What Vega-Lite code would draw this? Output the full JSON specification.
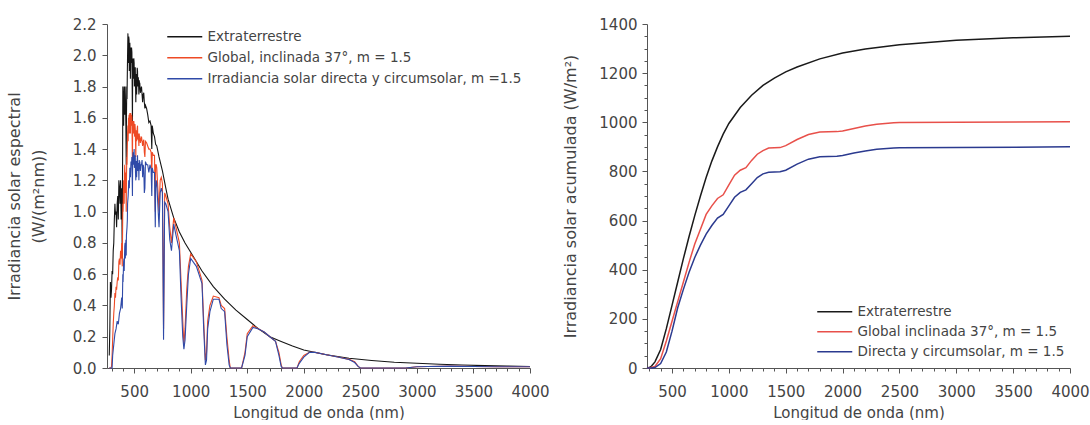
{
 "$schema": "https://vega.github.io/schema/vega-lite/v6.json",
 "background": "white",
 "padding": {"left": 6, "top": 17, "right": 0, "bottom": 0},
 "spacing": 12,
 "config": {
  "view": {"stroke": null},
  "font": "DejaVu Sans",
  "axis": {"grid": false, "domainColor": "#555", "tickColor": "#555", "labelColor": "#444", "titleColor": "#444", "labelFontSize": 15, "titleFontSize": 15, "titleFontWeight": "normal", "labelFont": "DejaVu Sans", "titleFont": "DejaVu Sans"},
  "legend": {"labelFont": "DejaVu Sans", "labelColor": "#444", "labelLimit": 0}
 },
 "resolve": {"scale": {"color": "independent"}, "legend": {"color": "independent"}},
 "datasets": {
  "spec": [
   {"s":"E","wl":280,"v":0.08},{"s":"E","wl":285,"v":0.25},{"s":"E","wl":290,"v":0.55},{"s":"E","wl":295,"v":0.45},{"s":"E","wl":300,"v":0.5},{"s":"E","wl":305,"v":0.62},{"s":"E","wl":310,"v":0.6},{"s":"E","wl":315,"v":0.75},{"s":"E","wl":320,"v":0.8},{"s":"E","wl":325,"v":0.95},{"s":"E","wl":330,"v":1.05},{"s":"E","wl":335,"v":0.98},{"s":"E","wl":340,"v":1.0},{"s":"E","wl":345,"v":0.9},{"s":"E","wl":350,"v":1.05},{"s":"E","wl":355,"v":1.1},{"s":"E","wl":360,"v":0.95},{"s":"E","wl":365,"v":1.2},{"s":"E","wl":370,"v":1.15},{"s":"E","wl":375,"v":1.05},{"s":"E","wl":380,"v":1.2},{"s":"E","wl":385,"v":0.95},{"s":"E","wl":390,"v":1.15},{"s":"E","wl":395,"v":0.7},{"s":"E","wl":400,"v":1.8},{"s":"E","wl":405,"v":1.65},{"s":"E","wl":410,"v":1.75},{"s":"E","wl":415,"v":1.78},{"s":"E","wl":420,"v":1.8},{"s":"E","wl":425,"v":1.65},{"s":"E","wl":430,"v":1.3},{"s":"E","wl":435,"v":1.8},{"s":"E","wl":440,"v":1.9},{"s":"E","wl":445,"v":2.14},{"s":"E","wl":450,"v":2.05},{"s":"E","wl":455,"v":2.1},{"s":"E","wl":460,"v":2.02},{"s":"E","wl":465,"v":1.98},{"s":"E","wl":470,"v":2.05},{"s":"E","wl":475,"v":1.95},{"s":"E","wl":480,"v":2.02},{"s":"E","wl":485,"v":1.55},{"s":"E","wl":490,"v":1.98},{"s":"E","wl":495,"v":1.9},{"s":"E","wl":500,"v":1.95},{"s":"E","wl":505,"v":1.85},{"s":"E","wl":510,"v":1.92},{"s":"E","wl":515,"v":1.7},{"s":"E","wl":520,"v":1.86},{"s":"E","wl":525,"v":1.85},{"s":"E","wl":530,"v":1.9},{"s":"E","wl":535,"v":1.82},{"s":"E","wl":540,"v":1.8},{"s":"E","wl":545,"v":1.84},{"s":"E","wl":550,"v":1.82},{"s":"E","wl":560,"v":1.78},{"s":"E","wl":570,"v":1.75},{"s":"E","wl":580,"v":1.75},{"s":"E","wl":590,"v":1.7},{"s":"E","wl":600,"v":1.68},{"s":"E","wl":620,"v":1.62},{"s":"E","wl":640,"v":1.58},{"s":"E","wl":656,"v":1.4},{"s":"E","wl":660,"v":1.55},{"s":"E","wl":680,"v":1.48},{"s":"E","wl":700,"v":1.42},{"s":"E","wl":720,"v":1.35},{"s":"E","wl":750,"v":1.26},{"s":"E","wl":780,"v":1.15},{"s":"E","wl":800,"v":1.08},{"s":"E","wl":850,"v":0.96},{"s":"E","wl":900,"v":0.87},{"s":"E","wl":950,"v":0.8},{"s":"E","wl":1000,"v":0.74},{"s":"E","wl":1100,"v":0.62},{"s":"E","wl":1200,"v":0.52},{"s":"E","wl":1300,"v":0.44},{"s":"E","wl":1400,"v":0.37},{"s":"E","wl":1500,"v":0.31},{"s":"E","wl":1600,"v":0.25},{"s":"E","wl":1700,"v":0.2},{"s":"E","wl":1800,"v":0.17},{"s":"E","wl":1900,"v":0.14},{"s":"E","wl":2000,"v":0.115},{"s":"E","wl":2200,"v":0.085},{"s":"E","wl":2400,"v":0.062},{"s":"E","wl":2600,"v":0.048},{"s":"E","wl":2800,"v":0.037},{"s":"E","wl":3000,"v":0.03},{"s":"E","wl":3200,"v":0.024},{"s":"E","wl":3400,"v":0.019},{"s":"E","wl":3600,"v":0.015},{"s":"E","wl":3800,"v":0.012},{"s":"E","wl":4000,"v":0.01},
   {"s":"E","wl":402,"v":1.72},{"s":"E","wl":407,"v":1.55},{"s":"E","wl":412,"v":1.8},{"s":"E","wl":417,"v":1.62},{"s":"E","wl":422,"v":1.75},{"s":"E","wl":427,"v":1.55},{"s":"E","wl":432,"v":1.6},{"s":"E","wl":437,"v":1.72},{"s":"E","wl":442,"v":2.0},{"s":"E","wl":447,"v":1.95},{"s":"E","wl":452,"v":2.12},{"s":"E","wl":457,"v":1.9},{"s":"E","wl":462,"v":2.08},{"s":"E","wl":467,"v":1.85},{"s":"E","wl":472,"v":2.0},{"s":"E","wl":477,"v":2.05},{"s":"E","wl":482,"v":1.88},{"s":"E","wl":487,"v":1.95},{"s":"E","wl":492,"v":1.85},{"s":"E","wl":497,"v":1.98},{"s":"E","wl":502,"v":1.8},{"s":"E","wl":507,"v":1.92},{"s":"E","wl":512,"v":1.82},{"s":"E","wl":517,"v":1.88},{"s":"E","wl":522,"v":1.75},{"s":"E","wl":527,"v":1.92},{"s":"E","wl":532,"v":1.8},{"s":"E","wl":537,"v":1.86},{"s":"E","wl":542,"v":1.75},{"s":"E","wl":547,"v":1.82},{"s":"E","wl":555,"v":1.76},{"s":"E","wl":565,"v":1.8},{"s":"E","wl":575,"v":1.7},{"s":"E","wl":585,"v":1.76},{"s":"E","wl":595,"v":1.66},{"s":"E","wl":610,"v":1.66},{"s":"E","wl":630,"v":1.57},{"s":"E","wl":650,"v":1.55},{"s":"E","wl":670,"v":1.5},{"s":"E","wl":690,"v":1.43},
   {"s":"G","wl":280,"v":0},{"s":"G","wl":295,"v":0},{"s":"G","wl":300,"v":0.01},{"s":"G","wl":305,"v":0.08},{"s":"G","wl":310,"v":0.18},{"s":"G","wl":315,"v":0.28},{"s":"G","wl":320,"v":0.35},{"s":"G","wl":325,"v":0.4},{"s":"G","wl":330,"v":0.48},{"s":"G","wl":335,"v":0.45},{"s":"G","wl":340,"v":0.52},{"s":"G","wl":345,"v":0.5},{"s":"G","wl":350,"v":0.55},{"s":"G","wl":355,"v":0.58},{"s":"G","wl":360,"v":0.56},{"s":"G","wl":365,"v":0.68},{"s":"G","wl":370,"v":0.7},{"s":"G","wl":375,"v":0.66},{"s":"G","wl":380,"v":0.75},{"s":"G","wl":385,"v":0.7},{"s":"G","wl":390,"v":0.8},{"s":"G","wl":395,"v":0.65},{"s":"G","wl":400,"v":1.05},{"s":"G","wl":405,"v":1.1},{"s":"G","wl":410,"v":1.15},{"s":"G","wl":415,"v":1.25},{"s":"G","wl":420,"v":1.22},{"s":"G","wl":425,"v":1.2},{"s":"G","wl":430,"v":1.0},{"s":"G","wl":435,"v":1.35},{"s":"G","wl":440,"v":1.42},{"s":"G","wl":445,"v":1.55},{"s":"G","wl":450,"v":1.6},{"s":"G","wl":455,"v":1.62},{"s":"G","wl":460,"v":1.6},{"s":"G","wl":465,"v":1.58},{"s":"G","wl":470,"v":1.63},{"s":"G","wl":475,"v":1.55},{"s":"G","wl":480,"v":1.6},{"s":"G","wl":485,"v":1.3},{"s":"G","wl":490,"v":1.58},{"s":"G","wl":495,"v":1.52},{"s":"G","wl":500,"v":1.55},{"s":"G","wl":505,"v":1.48},{"s":"G","wl":510,"v":1.53},{"s":"G","wl":515,"v":1.35},{"s":"G","wl":520,"v":1.5},{"s":"G","wl":525,"v":1.48},{"s":"G","wl":530,"v":1.55},{"s":"G","wl":535,"v":1.46},{"s":"G","wl":540,"v":1.45},{"s":"G","wl":545,"v":1.5},{"s":"G","wl":550,"v":1.48},{"s":"G","wl":560,"v":1.46},{"s":"G","wl":570,"v":1.45},{"s":"G","wl":580,"v":1.45},{"s":"G","wl":590,"v":1.38},{"s":"G","wl":600,"v":1.45},{"s":"G","wl":620,"v":1.42},{"s":"G","wl":640,"v":1.4},{"s":"G","wl":656,"v":1.25},{"s":"G","wl":660,"v":1.38},{"s":"G","wl":680,"v":1.36},{"s":"G","wl":687,"v":1.0},{"s":"G","wl":695,"v":1.3},{"s":"G","wl":700,"v":1.28},{"s":"G","wl":720,"v":1.0},{"s":"G","wl":730,"v":1.2},{"s":"G","wl":740,"v":1.22},{"s":"G","wl":750,"v":1.18},{"s":"G","wl":760,"v":0.25},{"s":"G","wl":770,"v":1.12},{"s":"G","wl":780,"v":1.1},{"s":"G","wl":800,"v":1.05},{"s":"G","wl":815,"v":0.9},{"s":"G","wl":830,"v":0.8},{"s":"G","wl":850,"v":0.96},{"s":"G","wl":870,"v":0.9},{"s":"G","wl":900,"v":0.8},{"s":"G","wl":915,"v":0.55},{"s":"G","wl":930,"v":0.3},{"s":"G","wl":940,"v":0.15},{"s":"G","wl":950,"v":0.25},{"s":"G","wl":965,"v":0.5},{"s":"G","wl":980,"v":0.65},{"s":"G","wl":1000,"v":0.73},{"s":"G","wl":1050,"v":0.68},{"s":"G","wl":1100,"v":0.56},{"s":"G","wl":1115,"v":0.3},{"s":"G","wl":1130,"v":0.05},{"s":"G","wl":1140,"v":0.1},{"s":"G","wl":1150,"v":0.3},{"s":"G","wl":1170,"v":0.4},{"s":"G","wl":1200,"v":0.46},{"s":"G","wl":1250,"v":0.45},{"s":"G","wl":1270,"v":0.4},{"s":"G","wl":1300,"v":0.38},{"s":"G","wl":1320,"v":0.2},{"s":"G","wl":1340,"v":0.05},{"s":"G","wl":1350,"v":0},{"s":"G","wl":1450,"v":0},{"s":"G","wl":1480,"v":0.1},{"s":"G","wl":1500,"v":0.22},{"s":"G","wl":1550,"v":0.27},{"s":"G","wl":1600,"v":0.25},{"s":"G","wl":1650,"v":0.23},{"s":"G","wl":1700,"v":0.2},{"s":"G","wl":1750,"v":0.17},{"s":"G","wl":1780,"v":0.1},{"s":"G","wl":1800,"v":0.02},{"s":"G","wl":1810,"v":0},{"s":"G","wl":1940,"v":0},{"s":"G","wl":1960,"v":0.04},{"s":"G","wl":2000,"v":0.08},{"s":"G","wl":2050,"v":0.1},{"s":"G","wl":2100,"v":0.1},{"s":"G","wl":2200,"v":0.085},{"s":"G","wl":2300,"v":0.07},{"s":"G","wl":2400,"v":0.055},{"s":"G","wl":2450,"v":0.04},{"s":"G","wl":2480,"v":0.01},{"s":"G","wl":2500,"v":0},{"s":"G","wl":2900,"v":0},{"s":"G","wl":3000,"v":0.008},{"s":"G","wl":3100,"v":0.01},{"s":"G","wl":3300,"v":0.012},{"s":"G","wl":3500,"v":0.01},{"s":"G","wl":3700,"v":0.008},{"s":"G","wl":3900,"v":0.008},{"s":"G","wl":4000,"v":0.008},
   {"s":"G","wl":402,"v":1.0},{"s":"G","wl":407,"v":1.2},{"s":"G","wl":412,"v":1.05},{"s":"G","wl":417,"v":1.3},{"s":"G","wl":422,"v":1.12},{"s":"G","wl":427,"v":1.25},{"s":"G","wl":432,"v":1.2},{"s":"G","wl":437,"v":1.3},{"s":"G","wl":442,"v":1.5},{"s":"G","wl":447,"v":1.45},{"s":"G","wl":452,"v":1.55},{"s":"G","wl":457,"v":1.5},{"s":"G","wl":462,"v":1.63},{"s":"G","wl":467,"v":1.5},{"s":"G","wl":472,"v":1.58},{"s":"G","wl":477,"v":1.62},{"s":"G","wl":482,"v":1.48},{"s":"G","wl":487,"v":1.55},{"s":"G","wl":492,"v":1.5},{"s":"G","wl":497,"v":1.58},{"s":"G","wl":502,"v":1.5},{"s":"G","wl":507,"v":1.56},{"s":"G","wl":512,"v":1.45},{"s":"G","wl":517,"v":1.52},{"s":"G","wl":522,"v":1.45},{"s":"G","wl":527,"v":1.53},{"s":"G","wl":532,"v":1.47},{"s":"G","wl":537,"v":1.5},{"s":"G","wl":542,"v":1.42},{"s":"G","wl":547,"v":1.48},{"s":"G","wl":555,"v":1.44},{"s":"G","wl":565,"v":1.48},{"s":"G","wl":575,"v":1.42},{"s":"G","wl":585,"v":1.46},{"s":"G","wl":595,"v":1.35},{"s":"G","wl":610,"v":1.44},{"s":"G","wl":630,"v":1.4},{"s":"G","wl":650,"v":1.38},{"s":"G","wl":670,"v":1.36},{"s":"G","wl":690,"v":1.3},
   {"s":"D","wl":280,"v":0},{"s":"D","wl":305,"v":0},{"s":"D","wl":310,"v":0.08},{"s":"D","wl":320,"v":0.15},{"s":"D","wl":330,"v":0.22},{"s":"D","wl":340,"v":0.25},{"s":"D","wl":350,"v":0.3},{"s":"D","wl":360,"v":0.28},{"s":"D","wl":370,"v":0.35},{"s":"D","wl":380,"v":0.38},{"s":"D","wl":390,"v":0.45},{"s":"D","wl":395,"v":0.38},{"s":"D","wl":400,"v":0.6},{"s":"D","wl":410,"v":0.7},{"s":"D","wl":420,"v":0.8},{"s":"D","wl":430,"v":0.72},{"s":"D","wl":440,"v":0.95},{"s":"D","wl":450,"v":1.15},{"s":"D","wl":460,"v":1.22},{"s":"D","wl":470,"v":1.28},{"s":"D","wl":480,"v":1.35},{"s":"D","wl":485,"v":1.1},{"s":"D","wl":490,"v":1.38},{"s":"D","wl":495,"v":1.32},{"s":"D","wl":500,"v":1.4},{"s":"D","wl":505,"v":1.32},{"s":"D","wl":510,"v":1.36},{"s":"D","wl":515,"v":1.2},{"s":"D","wl":520,"v":1.32},{"s":"D","wl":525,"v":1.3},{"s":"D","wl":530,"v":1.36},{"s":"D","wl":535,"v":1.3},{"s":"D","wl":540,"v":1.28},{"s":"D","wl":545,"v":1.33},{"s":"D","wl":550,"v":1.32},{"s":"D","wl":560,"v":1.3},{"s":"D","wl":570,"v":1.33},{"s":"D","wl":580,"v":1.3},{"s":"D","wl":590,"v":1.12},{"s":"D","wl":600,"v":1.32},{"s":"D","wl":620,"v":1.3},{"s":"D","wl":640,"v":1.3},{"s":"D","wl":656,"v":1.1},{"s":"D","wl":660,"v":1.28},{"s":"D","wl":680,"v":1.25},{"s":"D","wl":687,"v":0.9},{"s":"D","wl":695,"v":1.2},{"s":"D","wl":700,"v":1.18},{"s":"D","wl":720,"v":0.9},{"s":"D","wl":730,"v":1.12},{"s":"D","wl":740,"v":1.15},{"s":"D","wl":750,"v":1.12},{"s":"D","wl":760,"v":0.18},{"s":"D","wl":770,"v":1.06},{"s":"D","wl":780,"v":1.05},{"s":"D","wl":800,"v":1.0},{"s":"D","wl":815,"v":0.82},{"s":"D","wl":830,"v":0.75},{"s":"D","wl":850,"v":0.92},{"s":"D","wl":870,"v":0.85},{"s":"D","wl":900,"v":0.75},{"s":"D","wl":915,"v":0.45},{"s":"D","wl":930,"v":0.2},{"s":"D","wl":940,"v":0.12},{"s":"D","wl":950,"v":0.18},{"s":"D","wl":965,"v":0.4},{"s":"D","wl":980,"v":0.6},{"s":"D","wl":1000,"v":0.7},{"s":"D","wl":1050,"v":0.65},{"s":"D","wl":1100,"v":0.54},{"s":"D","wl":1115,"v":0.25},{"s":"D","wl":1130,"v":0.02},{"s":"D","wl":1140,"v":0.05},{"s":"D","wl":1150,"v":0.25},{"s":"D","wl":1170,"v":0.36},{"s":"D","wl":1200,"v":0.44},{"s":"D","wl":1250,"v":0.44},{"s":"D","wl":1270,"v":0.38},{"s":"D","wl":1300,"v":0.36},{"s":"D","wl":1320,"v":0.15},{"s":"D","wl":1340,"v":0.02},{"s":"D","wl":1350,"v":0},{"s":"D","wl":1450,"v":0},{"s":"D","wl":1480,"v":0.08},{"s":"D","wl":1500,"v":0.2},{"s":"D","wl":1550,"v":0.26},{"s":"D","wl":1600,"v":0.25},{"s":"D","wl":1650,"v":0.23},{"s":"D","wl":1700,"v":0.2},{"s":"D","wl":1750,"v":0.17},{"s":"D","wl":1780,"v":0.08},{"s":"D","wl":1800,"v":0.01},{"s":"D","wl":1810,"v":0},{"s":"D","wl":1940,"v":0},{"s":"D","wl":1960,"v":0.03},{"s":"D","wl":2000,"v":0.07},{"s":"D","wl":2050,"v":0.1},{"s":"D","wl":2100,"v":0.1},{"s":"D","wl":2200,"v":0.085},{"s":"D","wl":2300,"v":0.07},{"s":"D","wl":2400,"v":0.055},{"s":"D","wl":2450,"v":0.035},{"s":"D","wl":2480,"v":0.01},{"s":"D","wl":2500,"v":0},{"s":"D","wl":2900,"v":0},{"s":"D","wl":3000,"v":0.008},{"s":"D","wl":3100,"v":0.01},{"s":"D","wl":3300,"v":0.012},{"s":"D","wl":3500,"v":0.01},{"s":"D","wl":3700,"v":0.008},{"s":"D","wl":3900,"v":0.008},{"s":"D","wl":4000,"v":0.008},
   {"s":"D","wl":402,"v":0.55},{"s":"D","wl":407,"v":0.68},{"s":"D","wl":412,"v":0.62},{"s":"D","wl":417,"v":0.78},{"s":"D","wl":422,"v":0.7},{"s":"D","wl":427,"v":0.82},{"s":"D","wl":432,"v":0.85},{"s":"D","wl":437,"v":0.9},{"s":"D","wl":442,"v":1.05},{"s":"D","wl":447,"v":1.1},{"s":"D","wl":452,"v":1.2},{"s":"D","wl":457,"v":1.15},{"s":"D","wl":462,"v":1.28},{"s":"D","wl":467,"v":1.22},{"s":"D","wl":472,"v":1.32},{"s":"D","wl":477,"v":1.3},{"s":"D","wl":482,"v":1.25},{"s":"D","wl":487,"v":1.33},{"s":"D","wl":492,"v":1.3},{"s":"D","wl":497,"v":1.36},{"s":"D","wl":502,"v":1.28},{"s":"D","wl":507,"v":1.34},{"s":"D","wl":512,"v":1.25},{"s":"D","wl":517,"v":1.32},{"s":"D","wl":522,"v":1.22},{"s":"D","wl":527,"v":1.33},{"s":"D","wl":532,"v":1.26},{"s":"D","wl":537,"v":1.31},{"s":"D","wl":542,"v":1.2},{"s":"D","wl":547,"v":1.3},{"s":"D","wl":555,"v":1.26},{"s":"D","wl":565,"v":1.3},{"s":"D","wl":575,"v":1.22},{"s":"D","wl":585,"v":1.28},{"s":"D","wl":595,"v":1.15},{"s":"D","wl":610,"v":1.3},{"s":"D","wl":630,"v":1.25},{"s":"D","wl":650,"v":1.27},{"s":"D","wl":670,"v":1.25},{"s":"D","wl":690,"v":1.15}
  ],
  "cum": [
   {"s":"E","wl":280,"v":0},{"s":"E","wl":300,"v":2},{"s":"E","wl":320,"v":8},{"s":"E","wl":350,"v":25},{"s":"E","wl":400,"v":75},{"s":"E","wl":450,"v":160},{"s":"E","wl":500,"v":255},{"s":"E","wl":550,"v":350},{"s":"E","wl":600,"v":445},{"s":"E","wl":650,"v":535},{"s":"E","wl":700,"v":620},{"s":"E","wl":750,"v":700},{"s":"E","wl":800,"v":775},{"s":"E","wl":850,"v":842},{"s":"E","wl":900,"v":900},{"s":"E","wl":950,"v":952},{"s":"E","wl":1000,"v":995},{"s":"E","wl":1100,"v":1060},{"s":"E","wl":1200,"v":1110},{"s":"E","wl":1300,"v":1150},{"s":"E","wl":1400,"v":1180},{"s":"E","wl":1500,"v":1205},{"s":"E","wl":1600,"v":1225},{"s":"E","wl":1800,"v":1258},{"s":"E","wl":2000,"v":1282},{"s":"E","wl":2200,"v":1298},{"s":"E","wl":2500,"v":1316},{"s":"E","wl":3000,"v":1334},{"s":"E","wl":3500,"v":1344},{"s":"E","wl":4000,"v":1350},
   {"s":"G","wl":280,"v":0},{"s":"G","wl":300,"v":0},{"s":"G","wl":350,"v":6},{"s":"G","wl":400,"v":38},{"s":"G","wl":450,"v":110},{"s":"G","wl":500,"v":190},{"s":"G","wl":550,"v":270},{"s":"G","wl":600,"v":350},{"s":"G","wl":650,"v":430},{"s":"G","wl":700,"v":505},{"s":"G","wl":750,"v":565},{"s":"G","wl":800,"v":625},{"s":"G","wl":850,"v":660},{"s":"G","wl":900,"v":690},{"s":"G","wl":950,"v":705},{"s":"G","wl":1000,"v":745},{"s":"G","wl":1050,"v":785},{"s":"G","wl":1100,"v":805},{"s":"G","wl":1150,"v":815},{"s":"G","wl":1200,"v":845},{"s":"G","wl":1250,"v":870},{"s":"G","wl":1300,"v":885},{"s":"G","wl":1350,"v":895},{"s":"G","wl":1450,"v":897},{"s":"G","wl":1500,"v":905},{"s":"G","wl":1600,"v":930},{"s":"G","wl":1700,"v":950},{"s":"G","wl":1800,"v":960},{"s":"G","wl":1950,"v":962},{"s":"G","wl":2000,"v":965},{"s":"G","wl":2100,"v":975},{"s":"G","wl":2200,"v":985},{"s":"G","wl":2300,"v":992},{"s":"G","wl":2450,"v":998},{"s":"G","wl":2500,"v":999},{"s":"G","wl":3000,"v":1000},{"s":"G","wl":4000,"v":1002},
   {"s":"D","wl":280,"v":0},{"s":"D","wl":320,"v":0},{"s":"D","wl":350,"v":2},{"s":"D","wl":400,"v":18},{"s":"D","wl":450,"v":65},{"s":"D","wl":500,"v":150},{"s":"D","wl":550,"v":245},{"s":"D","wl":600,"v":320},{"s":"D","wl":650,"v":390},{"s":"D","wl":700,"v":450},{"s":"D","wl":750,"v":500},{"s":"D","wl":800,"v":545},{"s":"D","wl":850,"v":580},{"s":"D","wl":900,"v":610},{"s":"D","wl":950,"v":625},{"s":"D","wl":1000,"v":660},{"s":"D","wl":1050,"v":695},{"s":"D","wl":1100,"v":715},{"s":"D","wl":1150,"v":725},{"s":"D","wl":1200,"v":750},{"s":"D","wl":1250,"v":775},{"s":"D","wl":1300,"v":790},{"s":"D","wl":1350,"v":797},{"s":"D","wl":1450,"v":799},{"s":"D","wl":1500,"v":805},{"s":"D","wl":1600,"v":830},{"s":"D","wl":1700,"v":850},{"s":"D","wl":1800,"v":860},{"s":"D","wl":1950,"v":862},{"s":"D","wl":2000,"v":865},{"s":"D","wl":2100,"v":875},{"s":"D","wl":2200,"v":883},{"s":"D","wl":2300,"v":890},{"s":"D","wl":2450,"v":895},{"s":"D","wl":2500,"v":896},{"s":"D","wl":3000,"v":897},{"s":"D","wl":4000,"v":900}
  ]
 },
 "hconcat": [
  {
   "width": 423, "height": 344,
   "data": {"name": "spec"},
   "mark": {"type": "line", "strokeWidth": 1.1},
   "encoding": {
    "x": {"field": "wl", "type": "quantitative", "scale": {"domain": [260, 4000], "nice": false, "zero": false},
      "axis": {"title": "Longitud de onda (nm)", "values": [300,400,500,600,700,800,900,1000,1100,1200,1300,1400,1500,1600,1700,1800,1900,2000,2100,2200,2300,2400,2500,2600,2700,2800,2900,3000,3100,3200,3300,3400,3500,3600,3700,3800,3900,4000],
        "labelExpr": "datum.value % 500 === 0 ? datum.label : ''", "format": "d", "labelOverlap": false, "labelFlush": false,
        "tickSize": {"condition": {"test": "datum.value % 500 === 0", "value": 5}, "value": 3}, "labelPadding": 11, "titlePadding": 6}},
    "y": {"field": "v", "type": "quantitative", "scale": {"domain": [0, 2.2], "nice": false},
      "axis": {"title": ["Irradiancia solar espectral", "(W/(m²nm))"], "values": [0,0.2,0.4,0.6,0.8,1.0,1.2,1.4,1.6,1.8,2.0,2.2], "format": ".1f", "tickSize": 5, "labelPadding": 6, "titlePadding": 26, "titleLineHeight": 24, "titleFontSize": 16}},
    "color": {"field": "s", "type": "nominal", "sort": ["E","G","D"],
      "scale": {"domain": ["E","G","D"], "range": ["#151515", "#ee4a25", "#2f4aa8"]},
      "legend": {"orient": "none", "legendX": 71, "legendY": 6, "title": null, "symbolType": "M-3.5,0H3.5", "symbolSize": 100, "symbolStrokeWidth": 1.5, "labelOffset": 16, "labelFontSize": 13.5, "rowPadding": 6,
        "labelExpr": "datum.value === 'E' ? 'Extraterrestre' : datum.value === 'G' ? 'Global, inclinada 37°, m = 1.5' : 'Irradiancia solar directa y circumsolar, m =1.5'"}}
   }
  },
  {
   "width": 423, "height": 344,
   "data": {"name": "cum"},
   "mark": {"type": "line", "strokeWidth": 1.5},
   "encoding": {
    "x": {"field": "wl", "type": "quantitative", "scale": {"domain": [280, 4000], "nice": false, "zero": false},
      "axis": {"title": "Longitud de onda (nm)", "values": [300,400,500,600,700,800,900,1000,1100,1200,1300,1400,1500,1600,1700,1800,1900,2000,2100,2200,2300,2400,2500,2600,2700,2800,2900,3000,3100,3200,3300,3400,3500,3600,3700,3800,3900,4000],
        "labelExpr": "datum.value % 500 === 0 ? datum.label : ''", "format": "d", "labelOverlap": false, "labelFlush": false,
        "tickSize": {"condition": {"test": "datum.value % 500 === 0", "value": 5}, "value": 3}, "labelPadding": 11, "titlePadding": 6}},
    "y": {"field": "v", "type": "quantitative", "scale": {"domain": [0, 1400], "nice": false},
      "axis": {"title": "Irradiancia solar acumulada (W/m²)", "values": [0,50,100,150,200,250,300,350,400,450,500,550,600,650,700,750,800,850,900,950,1000,1050,1100,1150,1200,1250,1300,1350,1400],
        "labelExpr": "datum.value % 200 === 0 ? datum.label : ''", "format": "d", "labelOverlap": false,
        "tickSize": {"condition": {"test": "datum.value % 200 === 0", "value": 5}, "value": 3}, "labelPadding": 5, "titlePadding": 20, "titleFontSize": 16}},
    "color": {"field": "s", "type": "nominal", "sort": ["E","G","D"],
      "scale": {"domain": ["E","G","D"], "range": ["#1a1a1a", "#e8504a", "#2b3a8f"]},
      "legend": {"orient": "none", "legendX": 181, "legendY": 281, "title": null, "symbolType": "M-3.5,0H3.5", "symbolSize": 100, "symbolStrokeWidth": 1.5, "labelOffset": 16, "labelFontSize": 13.5, "rowPadding": 5,
        "labelExpr": "datum.value === 'E' ? 'Extraterrestre' : datum.value === 'G' ? 'Global inclinada 37°, m = 1.5' : 'Directa y circumsolar, m = 1.5'"}}
   }
  }
 ]
}
